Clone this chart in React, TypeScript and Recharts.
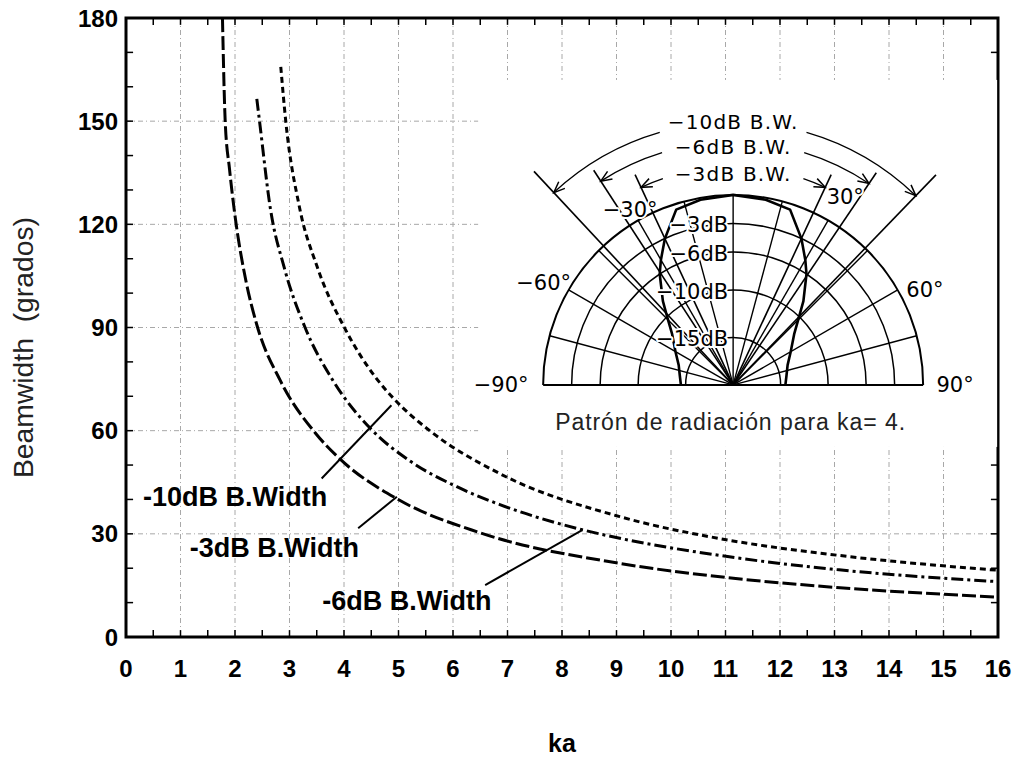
import React from 'react';
import {
  LineChart,
  Line,
  XAxis,
  YAxis,
  CartesianGrid,
  ReferenceLine,
  ReferenceDot,
  ReferenceArea,
} from 'recharts';

// ---------- axes ----------
const X_TICKS = [0, 1, 2, 3, 4, 5, 6, 7, 8, 9, 10, 11, 12, 13, 14, 15, 16];
const Y_TICKS = [0, 30, 60, 90, 120, 150, 180];
const X_MINOR = [0.5, 1, 1.5, 2, 2.5, 3, 3.5, 4, 4.5, 5, 5.5, 6, 6.5, 7, 7.5, 8, 8.5, 9, 9.5, 10, 10.5, 11, 11.5, 12, 12.5, 13, 13.5, 14, 14.5, 15, 15.5];
const Y_MINOR = [10, 20, 30, 40, 50, 60, 70, 80, 90, 100, 110, 120, 130, 140, 150, 160, 170];

// ---------- series ----------
const BW3_KA = [1.77, 1.82, 1.9, 2.0, 2.2, 2.4, 2.83, 3.47, 3.93, 4.97, 6.5, 9.06, 10.9, 13.04, 16];
const BW3_DEG = [180, 150, 136, 122.5, 103.6, 90.8, 74.6, 59.4, 51.7, 40.2, 30.3, 21.4, 17.5, 14.4, 11.6];

const BW6_KA = [2.4, 2.45, 2.65, 2.9, 3.28, 3.8, 4.5, 5.2, 6.07, 6.86, 8.37, 9.06, 10.9, 13.04, 16];
const BW6_DEG = [156.5, 150, 124.5, 107.6, 90.2, 74.5, 60.4, 51.3, 43.7, 38.5, 31.2, 28.7, 23.7, 19.6, 16.1];

const BW10_KA = [2.84, 2.93, 3.18, 3.5, 4.02, 4.57, 4.95, 5.58, 6.86, 9.06, 10.9, 13.04, 16];
const BW10_DEG = [165.8, 150.2, 125.2, 108, 89.6, 75.7, 68.7, 59.9, 47.5, 35.0, 28.6, 23.8, 19.4];

const toRows = (ka: number[], deg: number[]) => ka.map((k, i) => ({ ka: k, bw: deg[i] }));
const BW3 = toRows(BW3_KA, BW3_DEG);
const BW6 = toRows(BW6_KA, BW6_DEG);
const BW10 = toRows(BW10_KA, BW10_DEG);

// ---------- annotations ----------
const LABEL_TEXTS = ['-10dB B.Width', '-3dB B.Width', '-6dB B.Width'];
const LABEL_KA = [0.31, 1.17, 3.6];
const LABEL_DEG = [40.7, 25.9, 10.5];
const LEADER_KA1 = [3.59, 4.26, 6.59];
const LEADER_DEG1 = [46.1, 31.6, 15.1];
const LEADER_KA2 = [4.87, 4.97, 8.37];
const LEADER_DEG2 = [67.4, 40.8, 31.1];

// ---------- inset polar pattern (ka = 4) ----------
const INSET_KA = 11.14;
const INSET_DEG = 73.3;
const RING_DB = [0, -3, -6, -10, -15];
const RING_LABELS = ['', '−3dB', '−6dB', '−10dB', '−15dB'];
const SPOKE_DEG = [-75, -60, -45, -30, -15, 0, 15, 30, 45, 60, 75];
const BW_TEXTS = ['−10dB B.W.', '−6dB B.W.', '−3dB B.W.'];
const BW_LEFT_DEG = [-43, -33, -25];
const BW_RIGHT_DEG = [44, 34, 25];
const ANGLE_LABELS = ['−90°', '−60°', '−30°', '30°', '60°', '90°'];
const ANGLE_AT = [-90, -61.8, -30.5, 30.8, 63.7, 90];
const PATTERN_DEG = [0, 10, 18, 25, 30, 33.5, 40, 44, 50, 60, 70, 80, 90];
const PATTERN_DB = [0, -0.2, -0.6, -3, -4.8, -6, -8.5, -10, -11.6, -13, -13.9, -14.3, -14.5];

const SANS = '"Liberation Sans", Arial, Helvetica, sans-serif';
const INSET_FONT = '"DejaVu Sans", "Liberation Sans", sans-serif';

const Inset = (props: any) => {
  const cx: number = props.cx;
  const cy: number = props.cy;
  if (cx == null || cy == null) return null;
  const R = 190;
  const rad = (d: number) => (d * Math.PI) / 180;
  const P = (deg: number, r: number): [number, number] => [cx + r * Math.sin(rad(deg)), cy - r * Math.cos(rad(deg))];
  const rOf = (db: number) => R * (1 + db / 20);
  const arc = (r: number, a0: number, a1: number) => {
    const [x0, y0] = P(a0, r);
    const [x1, y1] = P(a1, r);
    return `M${x0},${y0} A${r},${r} 0 0 1 ${x1},${y1}`;
  };
  const arrow = (r: number, a: number, dir: number) => {
    const [x, y] = P(a, r);
    const tx = Math.cos(rad(a)) * dir;
    const ty = Math.sin(rad(a)) * dir;
    const nx = -ty;
    const ny = tx;
    const L = 11;
    const W = 4.5;
    return `M${x - tx * L + nx * W},${y - ty * L + ny * W} L${x},${y} L${x - tx * L - nx * W},${y - ty * L - ny * W}`;
  };
  const arcR = [263, 243, 218];
  const textR = [263, 237.5, 211];
  const gap = [16.2, 17, 18.8];
  const lineR = [292, 256, 232];

  const patternAngles = [...PATTERN_DEG.slice(1).reverse().map((d) => -d), ...PATTERN_DEG];
  const patternDb = [...PATTERN_DB.slice(1).reverse(), ...PATTERN_DB];
  const patternPath = patternAngles
    .map((a, i) => {
      const [x, y] = P(a, rOf(patternDb[i]));
      return `${i === 0 ? 'M' : 'L'}${x.toFixed(1)},${y.toFixed(1)}`;
    })
    .join(' ');

  const angleR = [232, 215, 203, 219, 214, 222];
  const txtHalo = { paintOrder: 'stroke' as const, stroke: '#fff', strokeWidth: 4, strokeLinejoin: 'round' as const };

  return (
    <g>
      <rect x={cx - 255} y={cy - 305} width={519} height={367} fill="#fff" />
      {RING_DB.map((db, i) => (
        <path key={'ring' + i} d={arc(rOf(db), -90, 0) + ' ' + arc(rOf(db), 0, 90)} fill="none" stroke="#000" strokeWidth={i === 0 ? 2 : 1.5} />
      ))}
      <line x1={cx - R} y1={cy} x2={cx + R} y2={cy} stroke="#000" strokeWidth={2} />
      {SPOKE_DEG.map((a, i) => {
        const [x, y] = P(a, R);
        return <line key={'sp' + i} x1={cx} y1={cy} x2={x} y2={y} stroke="#000" strokeWidth={1.4} />;
      })}
      {BW_LEFT_DEG.map((a, i) => {
        const [x, y] = P(a, lineR[i]);
        return <line key={'bwl' + i} x1={cx} y1={cy} x2={x} y2={y} stroke="#000" strokeWidth={1.6} />;
      })}
      {BW_RIGHT_DEG.map((a, i) => {
        const [x, y] = P(a, lineR[i]);
        return <line key={'bwr' + i} x1={cx} y1={cy} x2={x} y2={y} stroke="#000" strokeWidth={1.6} />;
      })}
      {BW_TEXTS.map((t, i) => (
        <g key={'bwa' + i}>
          <path d={arc(arcR[i], BW_LEFT_DEG[i], -gap[i])} fill="none" stroke="#000" strokeWidth={1.3} />
          <path d={arc(arcR[i], gap[i], BW_RIGHT_DEG[i])} fill="none" stroke="#000" strokeWidth={1.3} />
          <path d={arrow(arcR[i], BW_LEFT_DEG[i], -1)} fill="none" stroke="#000" strokeWidth={1.5} />
          <path d={arrow(arcR[i], BW_RIGHT_DEG[i], 1)} fill="none" stroke="#000" strokeWidth={1.5} />
          <text x={cx} y={cy - textR[i]} textAnchor="middle" dominantBaseline="central" fontFamily={INSET_FONT} fontSize={20} letterSpacing={1.2} fill="#000">
            {t}
          </text>
        </g>
      ))}
      <path d={patternPath} fill="none" stroke="#000" strokeWidth={2.6} strokeLinejoin="round" />
      {RING_LABELS.map((t, i) =>
        t ? (
          <text key={'rl' + i} x={cx - 5} y={cy - rOf(RING_DB[i]) + 2} textAnchor="end" dominantBaseline="central" fontFamily={INSET_FONT} fontSize={21} fill="#000" {...txtHalo}>
            {t}
          </text>
        ) : null
      )}
      {ANGLE_LABELS.map((t, i) => {
        const [x, y] = P(ANGLE_AT[i], angleR[i]);
        return (
          <text key={'al' + i} x={x} y={y} textAnchor="middle" dominantBaseline="central" fontFamily={INSET_FONT} fontSize={21} fill="#000" {...txtHalo}>
            {t}
          </text>
        );
      })}
      <text x={cx - 3} y={cy + 37} textAnchor="middle" dominantBaseline="central" fontFamily={SANS} fontSize={23} textLength={350} lengthAdjust="spacing" fill="#222">
        Patrón de radiación para ka= 4.
      </text>
    </g>
  );
};

const TextShape = (text: string) => (props: any) => {
  if (props.cx == null) return null;
  return (
    <text x={props.cx} y={props.cy} textAnchor="start" dominantBaseline="central" fontFamily={SANS} fontWeight={700} fontSize={27} fill="#000">
      {text}
    </text>
  );
};

const YLabel = (props: any) => {
  const vb = props.viewBox || { x: 0, y: 18, width: 126, height: 619 };
  const x = vb.x + 33;
  const y = vb.y + vb.height / 2 + 20;
  return (
    <text
      x={x}
      y={y}
      transform={`rotate(-90 ${x} ${y})`}
      textAnchor="middle"
      fontFamily={SANS}
      fontSize={28}
      textLength={261}
      lengthAdjust="spacingAndGlyphs"
      fill="#222"
      style={{ whiteSpace: 'pre' }}
    >
      {'Beamwidth  (grados)'}
    </text>
  );
};

export default function App() {
  const tickStyle = { fontSize: 24, fontWeight: 700, fill: '#000', fontFamily: SANS };
  return (
    <div style={{ position: 'absolute', left: 0, top: 0, width: 1018, height: 759, background: '#fff' }}>
      <LineChart width={1018} height={759} margin={{ top: 18, right: 20, bottom: 0, left: 0 }}>
        <CartesianGrid stroke="#a8a8a8" strokeDasharray="5 3 1 3" strokeWidth={1} />
        <XAxis
          type="number"
          dataKey="ka"
          domain={[0, 16]}
          ticks={X_TICKS}
          allowDataOverflow
          height={122}
          tick={tickStyle}
          tickLine={false}
          axisLine={false}
          tickSize={6}
          tickMargin={17}
          label={{ value: 'ka', position: 'insideBottom', offset: 7, style: { fontSize: 25, fontWeight: 700, fill: '#000', fontFamily: SANS } }}
        />
        <YAxis
          type="number"
          domain={[0, 180]}
          ticks={Y_TICKS}
          allowDataOverflow
          width={126}
          tick={tickStyle}
          tickLine={false}
          axisLine={false}
          tickSize={6}
          tickMargin={2}
          label={{ content: YLabel }}
        />
        <ReferenceDot x={INSET_KA} y={INSET_DEG} r={1} shape={Inset} ifOverflow="visible" />

        {X_MINOR.map((v) => (
          <ReferenceLine key={'bt' + v} segment={[{ x: v, y: 0 }, { x: v, y: 2 }]} stroke="#000" strokeWidth={1.5} />
        ))}
        {X_MINOR.map((v) => (
          <ReferenceLine key={'tt' + v} segment={[{ x: v, y: 180 }, { x: v, y: 178 }]} stroke="#000" strokeWidth={1.5} />
        ))}
        {Y_MINOR.map((v) => (
          <ReferenceLine key={'lt' + v} segment={[{ x: 0, y: v }, { x: 0.13, y: v }]} stroke="#000" strokeWidth={1.5} />
        ))}
        {Y_MINOR.map((v) => (
          <ReferenceLine key={'rt' + v} segment={[{ x: 16, y: v }, { x: 15.87, y: v }]} stroke="#000" strokeWidth={1.5} />
        ))}

        <Line data={BW3} dataKey="bw" type="monotone" stroke="#000" strokeWidth={3} strokeDasharray="14 4" dot={false} isAnimationActive={false} />
        <Line data={BW6} dataKey="bw" type="monotone" stroke="#000" strokeWidth={3} strokeDasharray="12 4 3 4" dot={false} isAnimationActive={false} />
        <Line data={BW10} dataKey="bw" type="monotone" stroke="#000" strokeWidth={3} strokeDasharray="6 4" dot={false} isAnimationActive={false} />

        {LEADER_KA1.map((k, i) => (
          <ReferenceLine
            key={'ld' + i}
            segment={[{ x: k, y: LEADER_DEG1[i] }, { x: LEADER_KA2[i], y: LEADER_DEG2[i] }]}
            stroke="#000"
            strokeWidth={2}
          />
        ))}
        {LABEL_TEXTS.map((t, i) => (
          <ReferenceDot key={'lb' + i} x={LABEL_KA[i]} y={LABEL_DEG[i]} r={1} shape={TextShape(t)} ifOverflow="visible" />
        ))}

        <ReferenceArea x1={0} x2={16} y1={0} y2={180} fill="none" fillOpacity={0} stroke="#000" strokeWidth={3} ifOverflow="visible" />
      </LineChart>
    </div>
  );
}
